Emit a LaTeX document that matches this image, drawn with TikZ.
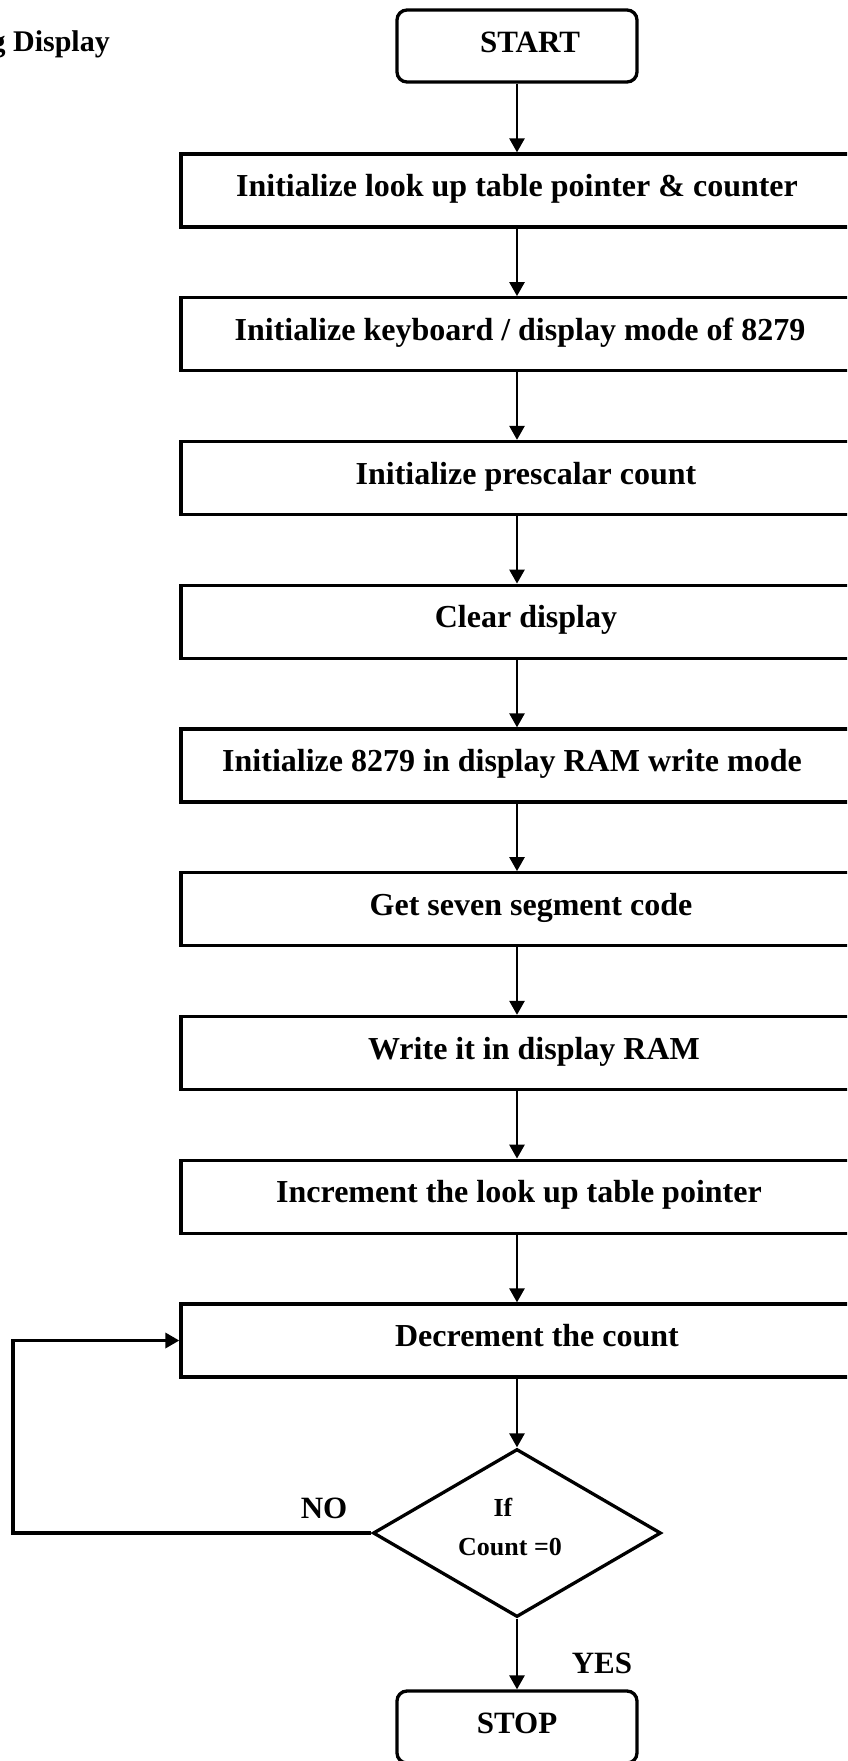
\documentclass[tikz,border=0pt]{standalone}
\usepackage{fontspec}
\setmainfont{Liberation Serif}
\usepackage{tikz}
\usetikzlibrary{arrows.meta,shapes.geometric}

\begin{document}
\begin{tikzpicture}[x=1pt,y=-1pt,>={Triangle[length=14pt,width=15pt]},
  procbox/.style={draw,line width=3.3pt,minimum width=672pt,minimum height=73pt,
    inner sep=0pt,font=\fontsize{32}{38}\selectfont\bfseries,
    text height=22pt,text depth=10pt},
  termbox/.style={draw,line width=3.3pt,rounded corners=10pt,minimum width=240pt,
    minimum height=72pt,inner sep=0pt,font=\fontsize{31}{37}\selectfont\bfseries,
    text height=22pt,text depth=9pt},
  testbox/.style={diamond,aspect=1.7,draw,line width=3.3pt,minimum width=288pt,
    minimum height=168pt,inner sep=0pt,align=center,
    font=\fontsize{26}{39}\selectfont\bfseries},
  flowline/.style={->,line width=2.6pt},
  lbl/.style={font=\fontsize{31}{37}\selectfont\bfseries,inner sep=0pt,anchor=base}]
  \useasboundingbox (0,0) rectangle (847,1761);
  \clip (0,0) rectangle (847,1761);
  \pgfmathsetmacro{\colx}{517}
  \pgfmathsetmacro{\firsty}{190.5}
  \pgfmathsetmacro{\gap}{143.75}
  \node[font=\fontsize{30}{36}\selectfont\bfseries,anchor=base east,inner sep=0pt]
    (title) at (110,52) {g Display};
  \node[termbox] (start) at (\colx,46) {\hspace*{26pt}START};
  % second value: text pushed right inside the box
  \foreach \dx/\txt [count=\i] in {0/{Initialize look up table pointer \& counter},
      6/{Initialize keyboard / display mode of 8279},18/{Initialize prescalar count},
      18/{Clear display},-10/{Initialize 8279 in display RAM write mode},
      28/{Get seven segment code},34/{Write it in display RAM},
      4/{Increment the look up table pointer},40/{Decrement the count}}{%
    \node[procbox] (p\i) at (\colx,{\firsty+\gap*(\i-1)}) {\hspace*{\dx pt}\txt};
  }
  \node[testbox] (test) at (\colx,1533) {If\hspace*{28pt}\\Count =0\hspace*{14pt}\strut};
  \node[termbox] (stop) at (\colx,1727) {STOP};
  \coordinate (loopcorner) at (13,1533);
  \draw[flowline] (start.south) -- (p1.north);
  \foreach \i [count=\j from 2] in {1,...,8}
    \draw[flowline] (p\i.south) -- (p\j.north);
  \draw[flowline] (p9.south) -- (test.north);
  \draw[flowline] (test.south) -- (stop.north);
  \draw[flowline,line width=3.3pt] (test.west) -- (loopcorner) |- (p9.west);
  \node[lbl] (nolbl) at (324,1518) {NO};
  \node[lbl] (yeslbl) at (602,1673) {YES};
\end{tikzpicture}
\end{document}
